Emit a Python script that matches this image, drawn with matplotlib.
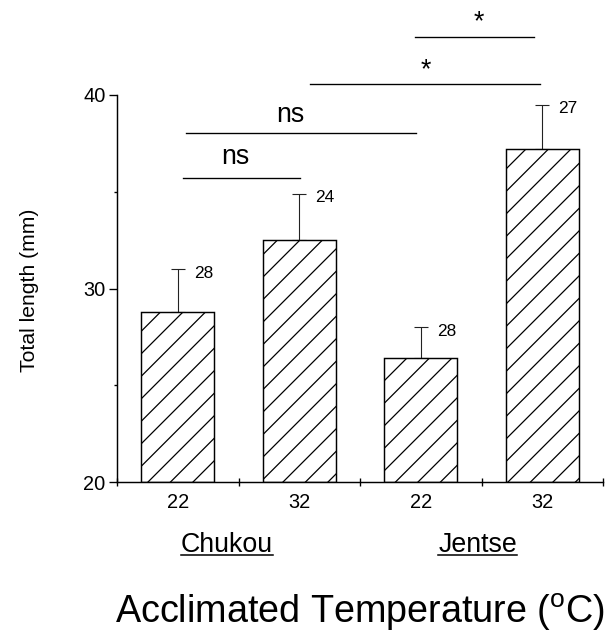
import numpy as np
import matplotlib.pyplot as plt
from matplotlib.lines import Line2D

DPI = 135  # '//' hatch at this dpi gives the ~11 px line spacing of the original


def pt(px):
    # sizes below are measured in pixels on the original
    return px * 72 / DPI


plt.rcParams['font.family'] = ['Liberation Sans', 'DejaVu Sans']
plt.rcParams['mathtext.default'] = 'regular'
plt.rcParams['hatch.linewidth'] = pt(1.25)

# values
temps = ['22', '32', '22', '32']
mean_len = [28.8, 32.5, 26.4, 37.2]
err_len = [2.2, 2.4, 1.6, 2.3]
n_fish = ['28', '24', '28', '27']
sites = ['Chukou', 'Jentse']
# comparisons between bars (index a, index b, result)
comp_a = [0, 0, 1, 2]
comp_b = [1, 2, 3, 3]
comp_txt = ['ns', 'ns', '*', '*']

# layout of the comparison lines
line_y = [35.7, 38.05, 40.57, 42.98]
trim_l = [0.04, 0.07, 0.09, -0.05]
trim_r = [0.01, -0.04, -0.02, -0.07]
txt_dx = [-0.03, -0.07, 0.04, -0.02]
txt_y = [36.43, 38.59, 40.9, 43.4]

fig = plt.figure(figsize=(607/DPI, 637/DPI), dpi=DPI)
ax = fig.add_axes([117/607, 1-482/637, 486/607, 387/637])

xpos = np.arange(len(mean_len)) + 0.5
ax.bar(xpos, [m - 20 for m in mean_len], bottom=20, width=0.6, color='white',
       edgecolor='black', linewidth=pt(1.45), hatch='//', zorder=2)
ax.errorbar(xpos, mean_len, yerr=[np.zeros(4), err_len], fmt='none', ecolor='#222222',
            elinewidth=pt(1.1), capsize=pt(7), capthick=pt(1.1), zorder=1)
for i in range(4):
    ax.annotate(n_fish[i], (xpos[i], mean_len[i] + err_len[i]), xytext=(16, -4),
                textcoords='offset pixels', ha='left', va='center', fontsize=pt(17.2))

# significance bars
for k in range(len(comp_txt)):
    xa = xpos[comp_a[k]] + trim_l[k]
    xb = xpos[comp_b[k]] + trim_r[k]
    ax.plot([xa, xb], [line_y[k], line_y[k]], color='black', lw=pt(1.35), clip_on=False)
    xm = (xpos[comp_a[k]] + xpos[comp_b[k]]) / 2 + txt_dx[k]
    ax.text(xm, txt_y[k], comp_txt[k], ha='center', va='baseline', fontsize=pt(26.7))

ax.set_xlim(0, 4)
ax.set_ylim(20, 40)
ax.spines['top'].set_visible(False)
ax.spines['right'].set_visible(False)
ax.spines['left'].set_linewidth(pt(1.45))
ax.spines['bottom'].set_linewidth(pt(1.45))

ax.set_yticks([20, 30, 40])
ax.set_yticks([25, 35], minor=True)
ax.tick_params(axis='y', which='major', direction='out', length=pt(8.3), width=pt(1.35),
               labelsize=pt(20), pad=pt(3.3))
ax.tick_params(axis='y', which='minor', direction='out', length=pt(3.3), width=pt(1.35))

ax.set_xticks([0, 1, 2, 3, 4])
ax.set_xticklabels([])
ax.set_xticks(xpos, minor=True)
ax.set_xticklabels(temps, minor=True)
ax.tick_params(axis='x', which='major', direction='inout', length=pt(8.3), width=pt(1.35))
ax.tick_params(axis='x', which='minor', length=0, labelsize=pt(20), pad=pt(11.1))

fig.text(29.5/607, 1 - 290/637, 'Total length (mm)', rotation=90, ha='center',
         va='center', fontsize=pt(21.1))
fig.text(360/607, 1 - 623.3/637, 'Acclimated Temperature ($^{o}$C)', ha='center',
         va='baseline', fontsize=pt(37.8))

grp_x = [0.905, 2.97]
labs = []
for g in range(2):
    labs.append(ax.text(grp_x[g], (482 - 551.7) / 387, sites[g], ha='center',
                        va='baseline', fontsize=pt(26.7), transform=ax.get_xaxis_transform()))

fig.canvas.draw()
inv = fig.transFigure.inverted()
for t in labs:
    bb = t.get_window_extent()
    x0, y0 = inv.transform((bb.x0, 637 - 554.5))
    x1, _ = inv.transform((bb.x1, 637 - 554.5))
    fig.add_artist(Line2D([x0, x1], [y0, y0], color='black', lw=pt(1.55),
                          transform=fig.transFigure))

fig.savefig('out.png', dpi=DPI)
